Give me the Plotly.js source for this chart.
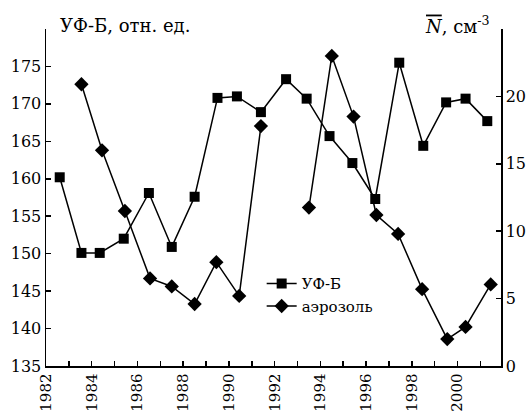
<!DOCTYPE html>
<html>
<head>
<meta charset="utf-8">
<script src="https://cdn.plot.ly/plotly-3.0.1.min.js"></script>
<style>
html,body{margin:0;padding:0;background:#fff;}
#chart{width:531px;height:412px;}
#chart svg text{font-family:"DejaVu Serif",serif !important;}
</style>
</head>
<body>
<div id="chart"></div>
<script>
// UF-B series (left axis, relative units)
const ufbYears = [1982.6, 1983.55, 1984.35, 1985.4, 1986.5, 1987.5, 1988.5, 1989.5, 1990.35, 1991.4,
                  1992.5, 1993.4, 1994.4, 1995.4, 1996.4, 1997.45, 1998.5, 1999.5, 2000.35, 2001.3];
const ufbValues = [160.2, 150.1, 150.1, 152.0, 158.1, 150.9, 157.6, 170.8, 171.0, 168.9,
                   173.3, 170.7, 165.7, 162.1, 157.3, 175.5, 164.4, 170.2, 170.7, 167.7];

// Aerosol series (right axis, cm^-3); no value in 1992
const aerYears = [1983.55, 1984.45, 1985.45, 1986.55, 1987.5, 1988.5, 1989.45, 1990.45, 1991.4,
                  1992.5, 1993.5, 1994.5, 1995.45, 1996.45, 1997.4, 1998.45, 1999.55, 2000.35, 2001.45];
const aerValues = [20.9, 16.0, 11.5, 6.5, 5.9, 4.6, 7.7, 5.2, 17.8,
                   null, 11.75, 23.0, 18.5, 11.2, 9.8, 5.7, 2.0, 2.9, 6.05];

const leftTickVals = [135, 140, 145, 150, 155, 160, 165, 170, 175, 180];
const leftTickText = ['135', '140', '145', '150', '155', '160', '165', '170', '175', ''];
const rightTickVals = [0, 5, 10, 15, 20, 25];
const rightTickText = ['0', '5', '10', '15', '20', ''];

const FONT = 'DejaVu Serif';

const traces = [
  {
    x: ufbYears, y: ufbValues, name: 'УФ-Б', type: 'scatter', mode: 'lines+markers',
    line: {color: '#000', width: 1.5},
    marker: {symbol: 'square', size: 10, color: '#000'},
    yaxis: 'y'
  },
  {
    x: aerYears, y: aerValues, name: 'аэрозоль', type: 'scatter', mode: 'lines+markers',
    connectgaps: false,
    line: {color: '#000', width: 1.5},
    marker: {symbol: 'diamond', size: 11, color: '#000'},
    yaxis: 'y2'
  }
];

const layout = {
  width: 531, height: 412,
  margin: {l: 46, r: 30, t: 29, b: 46},
  paper_bgcolor: '#fff', plot_bgcolor: '#fff',
  font: {family: FONT, size: 16, color: '#000'},
  showlegend: true,
  legend: {
    x: 0.474, y: 0.293, xanchor: 'left', yanchor: 'top',
    bgcolor: 'rgba(0,0,0,0)', borderwidth: 0,
    font: {family: FONT, size: 15, color: '#000'},
    tracegroupgap: 0
  },
  xaxis: {
    range: [1982, 2001.9],
    tick0: 1982, dtick: 2,
    ticks: 'inside', ticklen: 5, tickwidth: 1.5, tickcolor: '#000',
    minor: {dtick: 1, ticks: 'inside', ticklen: 5, tickwidth: 1.5, tickcolor: '#000', showgrid: false},
    tickangle: -90,
    tickfont: {family: FONT, size: 15, color: '#000'},
    showline: true, linecolor: '#000', linewidth: 1.5,
    showgrid: false, zeroline: false
  },
  yaxis: {
    range: [135, 180],
    tickvals: leftTickVals, ticktext: leftTickText,
    ticks: 'inside', ticklen: 5, tickwidth: 1.5, tickcolor: '#000',
    tickfont: {family: FONT, size: 16, color: '#000'},
    showline: true, linecolor: '#000', linewidth: 1.5,
    showgrid: false, zeroline: false
  },
  yaxis2: {
    range: [0, 25],
    overlaying: 'y', side: 'right',
    tickvals: rightTickVals, ticktext: rightTickText,
    ticks: 'inside', ticklen: 5, tickwidth: 1.5, tickcolor: '#000',
    tickfont: {family: FONT, size: 16, color: '#000'},
    showline: true, linecolor: '#000', linewidth: 1.5,
    showgrid: false, zeroline: false
  },
  annotations: [
    {
      text: 'УФ-Б, отн. ед.', xref: 'paper', yref: 'paper',
      x: 0.026, y: 1, xanchor: 'left', yanchor: 'middle', yshift: 4,
      showarrow: false, font: {family: FONT, size: 18, color: '#000'}
    },
    {
      text: '<span style="text-decoration:overline"><i>N</i></span>, см<sup>-3</sup>',
      xref: 'paper', yref: 'paper',
      x: 0.98, y: 1, xanchor: 'right', yanchor: 'middle', yshift: 4,
      showarrow: false, font: {family: FONT, size: 18, color: '#000'}
    }
  ]
};

Plotly.newPlot('chart', traces, layout, {displayModeBar: false, staticPlot: true});
</script>
</body>
</html>
